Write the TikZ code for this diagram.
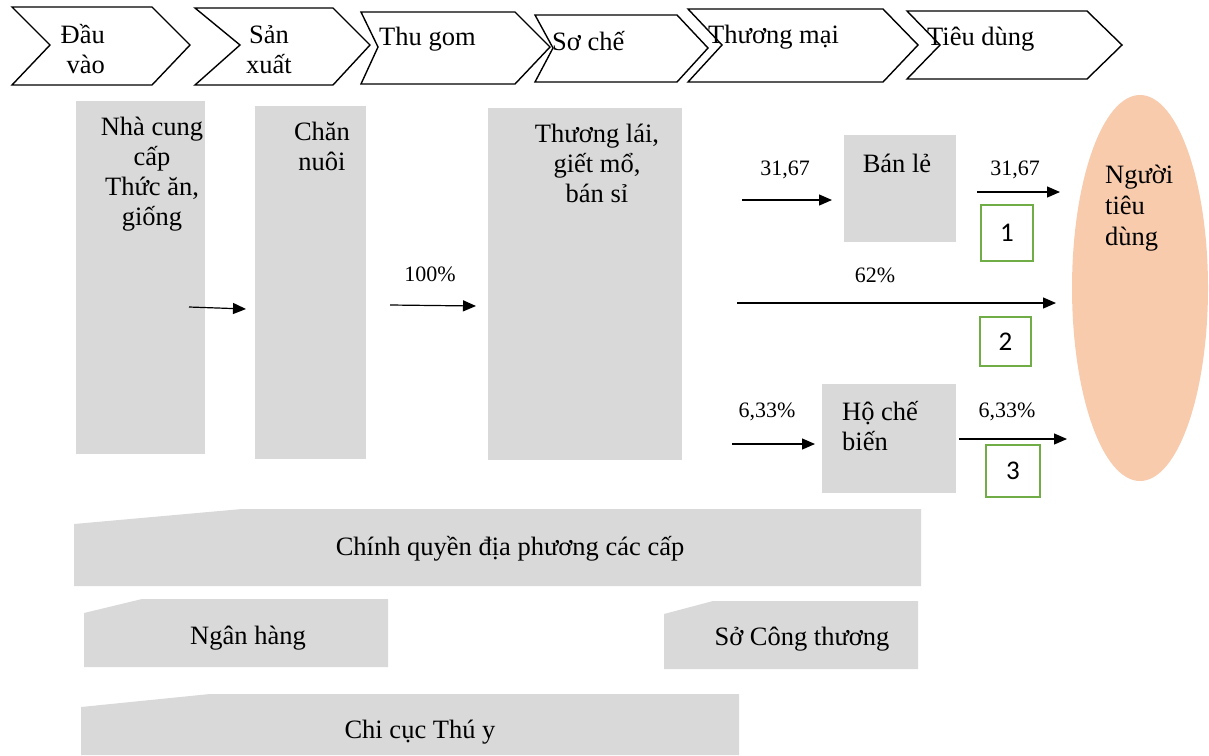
\documentclass[tikz,border=0pt]{standalone}
\usepackage{fontspec}
\setmainfont{Liberation Serif}
\newfontfamily\numfont{Carlito}
\usetikzlibrary{arrows.meta}
\definecolor{boxgray}{HTML}{D9D9D9}
\definecolor{boxgreen}{HTML}{70AD47}
\definecolor{peach}{HTML}{F8CBAD}
\begin{document}
\begin{tikzpicture}[x=1pt,y=-1pt,
  chev/.style={draw=black, line width=1.4pt, fill=white, line join=miter},
  graybox/.style={fill=boxgray, draw=none, inner sep=0pt, anchor=north west},
  txt/.style={font=\fontsize{26.5}{30}\selectfont, inner sep=0pt, align=center, anchor=base},
  lbl/.style={font=\fontsize{22}{25}\selectfont, inner sep=0pt, anchor=base},
  arr/.style={line width=1.2pt, -{Triangle[length=13pt,width=11pt]}},
  gbox/.style={draw=boxgreen, line width=1.8pt, fill=white, inner sep=0pt, anchor=north west, font=\numfont\fontsize{27}{30}\selectfont}]
\useasboundingbox (0,0) rectangle (1209,755);

% chevrons
\draw[chev] (12,7) -- (152,7) -- (190,45) -- (152,85) -- (12,85) -- (50,45) -- cycle;
\draw[chev] (195,8) -- (333,8) -- (370,45) -- (333,85) -- (195,85) -- (240,45) -- cycle;
\draw[chev] (361,12) -- (515,12) -- (550,47) -- (515,84) -- (361,84) -- (378,47) -- cycle;
\draw[chev] (535,15) -- (677,15) -- (708,48) -- (677,82) -- (535,82) -- (553,48) -- cycle;
\draw[chev] (688,9) -- (883,9) -- (918,45) -- (883,82) -- (688,82) -- (722,45) -- cycle;
\draw[chev] (907,11) -- (1087,11) -- (1122,45) -- (1087,79) -- (907,79) -- (940,45) -- cycle;
\node[txt, align=right, anchor=base east] (c1) at (105,73) {Đầu\\vào};
\node[txt] (c2) at (269,73) {Sản\\xuất};
\node[txt, anchor=base west] (c3) at (379,45) {Thu gom};
\node[txt, anchor=base west] (c4) at (552,50) {Sơ chế};
\node[txt, anchor=base west] (c5) at (708,43) {Thương mại};
\node[txt, anchor=base west] (c6) at (927,45) {Tiêu dùng};

% gray boxes
\node[graybox, minimum width=129pt, minimum height=353pt] (ncc) at (76,101) {};
\node[graybox, minimum width=111pt, minimum height=353pt] (cn) at (255,106) {};
\node[graybox, minimum width=194pt, minimum height=352pt] (tl) at (488,108) {};
\node[graybox, minimum width=112pt, minimum height=107pt] (bl) at (844,135) {};
\node[graybox, minimum width=134pt, minimum height=109pt] (hcb) at (822,384) {};
\node[txt] (ncct) at (152,225) {Nhà cung\\cấp\\Thức ăn,\\giống};
\node[txt] (cnt) at (322,170) {Chăn\\nuôi};
\node[txt] (tlt) at (597,202) {Thương lái,\\giết mổ,\\bán sỉ};
\node[txt] (blt) at (897,172) {Bán lẻ};
\node[txt, align=left, anchor=base west] (hcbt) at (842,450) {Hộ chế\\biến};

% consumer ellipse
\fill[peach] (1140,288) ellipse [x radius=68, y radius=193];
\node[txt, align=left, anchor=base west, font=\fontsize{26.5}{31}\selectfont] (ntd) at (1105,245) {Người\\tiêu\\dùng};

% arrows
\coordinate (a1s) at (189,307); \coordinate (a1e) at (246,309);
\coordinate (a2s) at (390,305); \coordinate (a2e) at (476,306);
\coordinate (a3s) at (742,200); \coordinate (a3e) at (832,200);
\coordinate (a4s) at (977,192); \coordinate (a4e) at (1060,192);
\coordinate (a5s) at (737,303); \coordinate (a5e) at (1056,303);
\coordinate (a6s) at (732,444); \coordinate (a6e) at (815,444);
\coordinate (a7s) at (959,439); \coordinate (a7e) at (1067,439);
\draw[arr] (a1s) -- (a1e);
\draw[arr] (a2s) -- (a2e);
\draw[arr] (a3s) -- (a3e);
\draw[arr] (a4s) -- (a4e);
\draw[arr] (a5s) -- (a5e);
\draw[arr] (a6s) -- (a6e);
\draw[arr] (a7s) -- (a7e);
\node[lbl] (l100) at (430,281) {100\%};
\node[lbl] (l3167a) at (785,175) {31,67};
\node[lbl] (l3167b) at (1015,175) {31,67};
\node[lbl] (l62) at (875,282) {62\%};
\node[lbl] (l633a) at (767,417) {6,33\%};
\node[lbl] (l633b) at (1007,417) {6,33\%};

% green numbered boxes
\node[gbox, minimum width=52pt, minimum height=56pt] (g1) at (980,204) {1};
\node[gbox, minimum width=51pt, minimum height=49pt] (g2) at (979,316) {2};
\node[gbox, minimum width=54pt, minimum height=52pt] (g3) at (985,444) {3};

% bottom institutions
\fill[boxgray] (74,524) -- (242,509) -- (921,509) -- (921,586) -- (74,586) -- cycle;
\fill[boxgray] (84,613) -- (142,599) -- (388,599) -- (388,667) -- (84,667) -- cycle;
\fill[boxgray] (664,614) -- (713,601) -- (918,601) -- (918,669) -- (664,669) -- cycle;
\fill[boxgray] (81,707) -- (210,694) -- (739,694) -- (739,755) -- (81,755) -- cycle;
\node[txt] (cq) at (510,555) {Chính quyền địa phương các cấp};
\node[txt] (nh) at (248,644) {Ngân hàng};
\node[txt] (sct) at (802,645) {Sở Công thương};
\node[txt] (ccty) at (420,738) {Chi cục Thú y};
\end{tikzpicture}
\end{document}
